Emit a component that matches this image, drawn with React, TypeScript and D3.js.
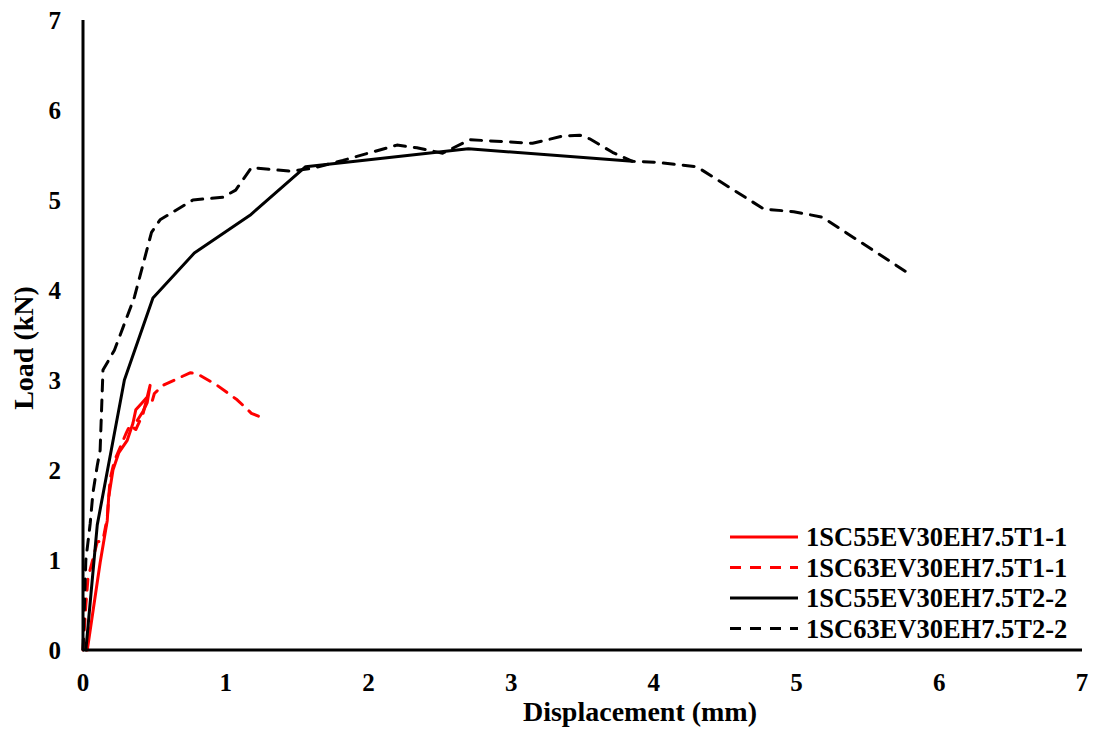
import { useEffect, useRef } from "react";
import * as d3 from "d3";

// chart size
const width = 1097;
const height = 729;
const margin = { top: 20, right: 15, bottom: 79, left: 83 };

// x ticks and y ticks
const xTicks = [0, 1, 2, 3, 4, 5, 6, 7];
const yTicks = [0, 1, 2, 3, 4, 5, 6, 7];

// series: displacement (mm) / load (kN)
const t1SolidX = [0.03, 0.12, 0.17, 0.18, 0.21, 0.25, 0.31, 0.35, 0.37, 0.41, 0.45, 0.47, 0.45, 0.42, 0.38];
const t1SolidY = [0, 0.97, 1.44, 1.7, 2.0, 2.19, 2.33, 2.52, 2.67, 2.74, 2.81, 2.94, 2.75, 2.65, 2.55];

const t1DashX = [0.0, 0.02, 0.035, 0.1, 0.14, 0.17, 0.19, 0.22, 0.3, 0.33, 0.37, 0.42, 0.44, 0.48, 0.5, 0.56, 0.75, 0.8, 0.94, 1.08, 1.18, 1.24];
const t1DashY = [0, 0.5, 0.8, 1.2, 1.22, 1.47, 1.9, 2.1, 2.4, 2.5, 2.45, 2.62, 2.75, 2.74, 2.85, 2.94, 3.08, 3.07, 2.94, 2.78, 2.63, 2.59];

const t2SolidX = [0.02, 0.1, 0.29, 0.49, 0.78, 1.17, 1.56, 2.7, 3.85];
const t2SolidY = [0, 1.39, 3.0, 3.91, 4.41, 4.83, 5.37, 5.57, 5.43];

const t2DashX = [0.0, 0.02, 0.05, 0.07, 0.1, 0.12, 0.14, 0.22, 0.36, 0.48, 0.54, 0.77, 0.98, 1.07, 1.18, 1.45, 1.6, 1.82, 2.2, 2.34, 2.52, 2.71, 3.15, 3.36, 3.48, 3.55, 3.71, 3.85, 4.01, 4.3, 4.77, 4.98, 5.18, 5.77];
const t2DashY = [0, 1.0, 1.4, 1.75, 2.05, 2.22, 3.11, 3.33, 3.92, 4.64, 4.78, 5.0, 5.03, 5.11, 5.36, 5.32, 5.35, 5.44, 5.61, 5.58, 5.52, 5.67, 5.63, 5.71, 5.72, 5.68, 5.53, 5.43, 5.42, 5.37, 4.9, 4.87, 4.81, 4.2];

const seriesNames = [
    "1SC55EV30EH7.5T1-1",
    "1SC63EV30EH7.5T1-1",
    "1SC55EV30EH7.5T2-2",
    "1SC63EV30EH7.5T2-2",
];
const seriesColors = ["#ff0000", "#ff0000", "#000000", "#000000"];
const seriesDashed = [false, true, false, true];

const font = "'Liberation Serif', 'Times New Roman', serif";

const drawChart = (svgEl: SVGSVGElement) => {
    const svg = d3.select(svgEl);
    svg.selectAll("*").remove();

    const x = d3.scaleLinear().domain([0, 7]).range([margin.left, width - margin.right]);
    const y = d3.scaleLinear().domain([0, 7]).range([height - margin.bottom, margin.top]);

    const seriesData = [
        d3.zip(t1SolidX, t1SolidY),
        d3.zip(t1DashX, t1DashY),
        d3.zip(t2SolidX, t2SolidY),
        d3.zip(t2DashX, t2DashY),
    ];

    const line = d3.line<number[]>()
        .x(d => x(d[0]))
        .y(d => y(d[1]));

    // draw the lines
    svg.append("g")
        .selectAll("path")
        .data(seriesData)
        .join("path")
            .attr("d", d => line(d))
            .attr("fill", "none")
            .attr("stroke", (_, i) => seriesColors[i])
            .attr("stroke-width", 3)
            .attr("stroke-linejoin", "round")
            .attr("stroke-linecap", "round")
            .attr("stroke-dasharray", (_, i) => (seriesDashed[i] ? "11 9" : null));

    // axes lines
    svg.append("line")
        .attr("x1", x(0)).attr("x2", x(0))
        .attr("y1", y(0)).attr("y2", y(7))
        .attr("stroke", "#000").attr("stroke-width", 3);
    svg.append("line")
        .attr("x1", x(0)).attr("x2", x(7))
        .attr("y1", y(0)).attr("y2", y(0))
        .attr("stroke", "#000").attr("stroke-width", 3);

    // tick labels
    svg.append("g")
        .attr("font-family", font)
        .attr("font-weight", "bold")
        .attr("font-size", 25)
        .attr("text-anchor", "middle")
        .selectAll("text")
        .data(xTicks)
        .join("text")
            .attr("x", d => x(d))
            .attr("y", y(0) + 41)
            .text(d => d);

    svg.append("g")
        .attr("font-family", font)
        .attr("font-weight", "bold")
        .attr("font-size", 25)
        .attr("text-anchor", "end")
        .selectAll("text")
        .data(yTicks)
        .join("text")
            .attr("x", x(0) - 22)
            .attr("y", d => y(d) + 9)
            .text(d => d);

    // axis titles
    svg.append("text")
        .attr("x", 640)
        .attr("y", 721)
        .attr("text-anchor", "middle")
        .attr("font-family", font)
        .attr("font-weight", "bold")
        .attr("font-size", 28)
        .text("Displacement (mm)");

    svg.append("text")
        .attr("transform", "translate(33, 348) rotate(-90)")
        .attr("text-anchor", "middle")
        .attr("font-family", font)
        .attr("font-weight", "bold")
        .attr("font-size", 28)
        .text("Load (kN)");

    // legend
    const legend = svg.append("g")
        .selectAll("g")
        .data(seriesNames)
        .join("g")
            .attr("transform", (_, i) => `translate(730, ${537 + i * 30.5})`);

    legend.append("line")
        .attr("x1", 0).attr("x2", 68)
        .attr("stroke", (_, i) => seriesColors[i])
        .attr("stroke-width", 3)
        .attr("stroke-dasharray", (_, i) => (seriesDashed[i] ? "11 9" : null));

    legend.append("text")
        .attr("x", 76)
        .attr("y", 9)
        .attr("font-family", font)
        .attr("font-weight", "bold")
        .attr("font-size", 26.5)
        .text(d => d);
};

export default function App() {
    const ref = useRef<SVGSVGElement>(null);

    useEffect(() => {
        if (ref.current) drawChart(ref.current);
    }, []);

    return (
        <svg
            ref={ref}
            width={width}
            height={height}
            style={{ position: "absolute", left: 0, top: 0, background: "#fff" }}
        />
    );
}
